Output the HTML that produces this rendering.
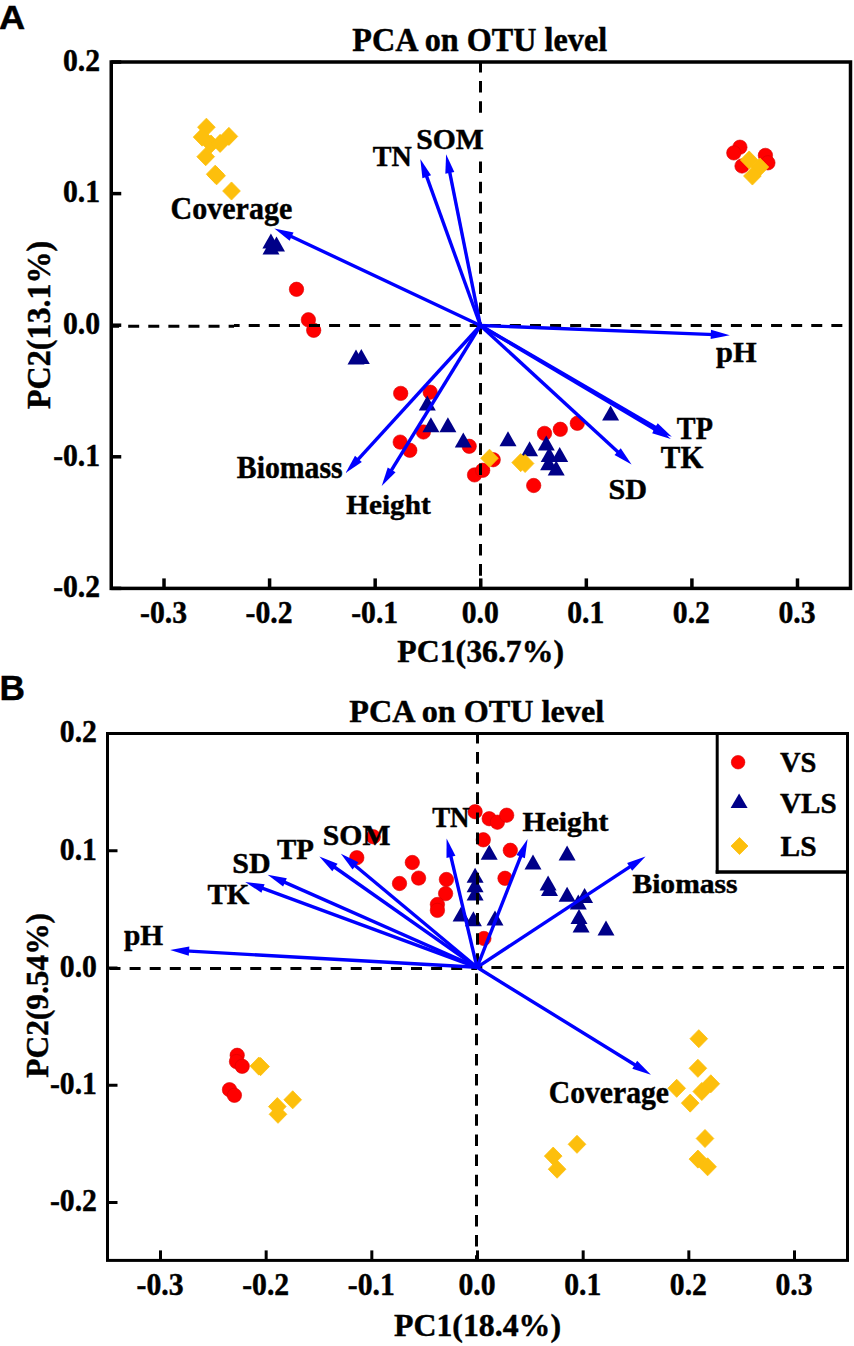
<!DOCTYPE html>
<html><head><meta charset="utf-8"><title>PCA on OTU level</title>
<style>html,body{margin:0;padding:0;background:#fff;width:854px;height:1346px;overflow:hidden;font-family:"Liberation Serif",serif}svg{display:block}text{stroke:#000;stroke-width:0.45px}</style>
</head><body>
<svg width="854" height="1346" viewBox="0 0 854 1346">
<rect width="854" height="1346" fill="#fff"/>
<circle cx="739.9" cy="147.2" r="7.2" fill="#ff0000" stroke="#d80000" stroke-width="0.6"/>
<circle cx="733.8" cy="152.9" r="7.2" fill="#ff0000" stroke="#d80000" stroke-width="0.6"/>
<circle cx="742" cy="166" r="7.2" fill="#ff0000" stroke="#d80000" stroke-width="0.6"/>
<circle cx="765.4" cy="155.4" r="7.2" fill="#ff0000" stroke="#d80000" stroke-width="0.6"/>
<circle cx="767.9" cy="162.8" r="7.2" fill="#ff0000" stroke="#d80000" stroke-width="0.6"/>
<circle cx="296.5" cy="289.3" r="7.2" fill="#ff0000" stroke="#d80000" stroke-width="0.6"/>
<circle cx="308.4" cy="319.8" r="7.2" fill="#ff0000" stroke="#d80000" stroke-width="0.6"/>
<circle cx="313.7" cy="330.3" r="7.2" fill="#ff0000" stroke="#d80000" stroke-width="0.6"/>
<circle cx="400.7" cy="393.4" r="7.2" fill="#ff0000" stroke="#d80000" stroke-width="0.6"/>
<circle cx="430.2" cy="392.2" r="7.2" fill="#ff0000" stroke="#d80000" stroke-width="0.6"/>
<circle cx="423.4" cy="432" r="7.2" fill="#ff0000" stroke="#d80000" stroke-width="0.6"/>
<circle cx="400.2" cy="442.1" r="7.2" fill="#ff0000" stroke="#d80000" stroke-width="0.6"/>
<circle cx="409.8" cy="450.3" r="7.2" fill="#ff0000" stroke="#d80000" stroke-width="0.6"/>
<circle cx="469.2" cy="446.3" r="7.2" fill="#ff0000" stroke="#d80000" stroke-width="0.6"/>
<circle cx="493.2" cy="459.7" r="7.2" fill="#ff0000" stroke="#d80000" stroke-width="0.6"/>
<circle cx="474.5" cy="474.9" r="7.2" fill="#ff0000" stroke="#d80000" stroke-width="0.6"/>
<circle cx="482.7" cy="470.3" r="7.2" fill="#ff0000" stroke="#d80000" stroke-width="0.6"/>
<circle cx="544.5" cy="433.4" r="7.2" fill="#ff0000" stroke="#d80000" stroke-width="0.6"/>
<circle cx="560.3" cy="429.3" r="7.2" fill="#ff0000" stroke="#d80000" stroke-width="0.6"/>
<circle cx="577.3" cy="423.3" r="7.2" fill="#ff0000" stroke="#d80000" stroke-width="0.6"/>
<circle cx="533.7" cy="485.5" r="7.2" fill="#ff0000" stroke="#d80000" stroke-width="0.6"/>
<path d="M270.9 233.4L279.4 248.4L262.4 248.4Z" fill="#000088"/>
<path d="M276.5 236.5L285 251.5L268 251.5Z" fill="#000088"/>
<path d="M271 239.5L279.5 254.5L262.5 254.5Z" fill="#000088"/>
<path d="M356 349.6L364.5 364.6L347.5 364.6Z" fill="#000088"/>
<path d="M361.3 349L369.8 364L352.8 364Z" fill="#000088"/>
<path d="M427.3 395.4L435.8 410.4L418.8 410.4Z" fill="#000088"/>
<path d="M430.9 417.2L439.4 432.2L422.4 432.2Z" fill="#000088"/>
<path d="M447.9 417.2L456.4 432.2L439.4 432.2Z" fill="#000088"/>
<path d="M463.3 432.4L471.8 447.4L454.8 447.4Z" fill="#000088"/>
<path d="M508 431.3L516.5 446.3L499.5 446.3Z" fill="#000088"/>
<path d="M529.6 441.2L538.1 456.2L521.1 456.2Z" fill="#000088"/>
<path d="M546.3 435.4L554.8 450.4L537.8 450.4Z" fill="#000088"/>
<path d="M559.7 447L568.2 462L551.2 462Z" fill="#000088"/>
<path d="M549.2 447L557.7 462L540.7 462Z" fill="#000088"/>
<path d="M548.6 455.3L557.1 470.3L540.1 470.3Z" fill="#000088"/>
<path d="M556.2 460.5L564.7 475.5L547.7 475.5Z" fill="#000088"/>
<path d="M610.6 405.4L619.1 420.4L602.1 420.4Z" fill="#000088"/>
<path d="M206.4 118.15L215.25 127.2L206.4 136.25L197.55 127.2Z" fill="#fdbf0c" stroke="#fdbf0c" stroke-width="0.8" stroke-linejoin="round"/>
<path d="M202.1 128.05L210.95 137.1L202.1 146.15L193.25 137.1Z" fill="#fdbf0c" stroke="#fdbf0c" stroke-width="0.8" stroke-linejoin="round"/>
<path d="M228.9 127.35L237.75 136.4L228.9 145.45L220.05 136.4Z" fill="#fdbf0c" stroke="#fdbf0c" stroke-width="0.8" stroke-linejoin="round"/>
<path d="M211 134.95L219.85 144L211 153.05L202.15 144Z" fill="#fdbf0c" stroke="#fdbf0c" stroke-width="0.8" stroke-linejoin="round"/>
<path d="M220.1 134.35L228.95 143.4L220.1 152.45L211.25 143.4Z" fill="#fdbf0c" stroke="#fdbf0c" stroke-width="0.8" stroke-linejoin="round"/>
<path d="M205.7 147.65L214.55 156.7L205.7 165.75L196.85 156.7Z" fill="#fdbf0c" stroke="#fdbf0c" stroke-width="0.8" stroke-linejoin="round"/>
<path d="M215.2 165.15L224.05 174.2L215.2 183.25L206.35 174.2Z" fill="#fdbf0c" stroke="#fdbf0c" stroke-width="0.8" stroke-linejoin="round"/>
<path d="M216.6 166.75L225.45 175.8L216.6 184.85L207.75 175.8Z" fill="#fdbf0c" stroke="#fdbf0c" stroke-width="0.8" stroke-linejoin="round"/>
<path d="M231.5 181.95L240.35 191L231.5 200.05L222.65 191Z" fill="#fdbf0c" stroke="#fdbf0c" stroke-width="0.8" stroke-linejoin="round"/>
<path d="M749.2 150.95L758.05 160L749.2 169.05L740.35 160Z" fill="#fdbf0c" stroke="#fdbf0c" stroke-width="0.8" stroke-linejoin="round"/>
<path d="M759.9 157.95L768.75 167L759.9 176.05L751.05 167Z" fill="#fdbf0c" stroke="#fdbf0c" stroke-width="0.8" stroke-linejoin="round"/>
<path d="M752.4 166.95L761.25 176L752.4 185.05L743.55 176Z" fill="#fdbf0c" stroke="#fdbf0c" stroke-width="0.8" stroke-linejoin="round"/>
<path d="M489.5 449.15L498.35 458.2L489.5 467.25L480.65 458.2Z" fill="#fdbf0c" stroke="#fdbf0c" stroke-width="0.8" stroke-linejoin="round"/>
<path d="M520.7 453.55L529.55 462.6L520.7 471.65L511.85 462.6Z" fill="#fdbf0c" stroke="#fdbf0c" stroke-width="0.8" stroke-linejoin="round"/>
<path d="M525.1 454.45L533.95 463.5L525.1 472.55L516.25 463.5Z" fill="#fdbf0c" stroke="#fdbf0c" stroke-width="0.8" stroke-linejoin="round"/>
<line x1="110" y1="326.3" x2="234" y2="326.3" stroke="#000" stroke-width="3" stroke-dasharray="11 9.09" stroke-dashoffset="1.9"/>
<line x1="234" y1="325.4" x2="849" y2="325.4" stroke="#000" stroke-width="3" stroke-dasharray="11 9.09" stroke-dashoffset="5.36"/>
<line x1="480.5" y1="62.2" x2="480.5" y2="587" stroke="#000" stroke-width="3" stroke-dasharray="11.6 8.53" stroke-dashoffset="1.33"/>
<line x1="164.01" y1="588.4" x2="164.01" y2="578.4" stroke="#000" stroke-width="3.5"/>
<line x1="269.59" y1="588.4" x2="269.59" y2="578.4" stroke="#000" stroke-width="3.5"/>
<line x1="375.17" y1="588.4" x2="375.17" y2="578.4" stroke="#000" stroke-width="3.5"/>
<line x1="480.75" y1="588.4" x2="480.75" y2="578.4" stroke="#000" stroke-width="3.5"/>
<line x1="586.33" y1="588.4" x2="586.33" y2="578.4" stroke="#000" stroke-width="3.5"/>
<line x1="691.91" y1="588.4" x2="691.91" y2="578.4" stroke="#000" stroke-width="3.5"/>
<line x1="797.49" y1="588.4" x2="797.49" y2="578.4" stroke="#000" stroke-width="3.5"/>
<line x1="111.25" y1="588.38" x2="121.25" y2="588.38" stroke="#000" stroke-width="3.5"/>
<line x1="111.25" y1="456.79" x2="121.25" y2="456.79" stroke="#000" stroke-width="3.5"/>
<line x1="111.25" y1="325.2" x2="121.25" y2="325.2" stroke="#000" stroke-width="3.5"/>
<line x1="111.25" y1="193.61" x2="121.25" y2="193.61" stroke="#000" stroke-width="3.5"/>
<line x1="111.25" y1="62.02" x2="121.25" y2="62.02" stroke="#000" stroke-width="3.5"/>
<rect x="111.25" y="62" width="739.25" height="526.4" fill="none" stroke="#000" stroke-width="3.5"/>
<text transform="translate(163.51 622.8) scale(0.97 1)" font-family='"Liberation Serif", serif' font-weight="bold" font-size="30.6" text-anchor="middle">-0.3</text>
<text transform="translate(269.09 622.8) scale(0.97 1)" font-family='"Liberation Serif", serif' font-weight="bold" font-size="30.6" text-anchor="middle">-0.2</text>
<text transform="translate(374.67 622.8) scale(0.97 1)" font-family='"Liberation Serif", serif' font-weight="bold" font-size="30.6" text-anchor="middle">-0.1</text>
<text transform="translate(480.25 622.8) scale(0.97 1)" font-family='"Liberation Serif", serif' font-weight="bold" font-size="30.6" text-anchor="middle">0.0</text>
<text transform="translate(585.83 622.8) scale(0.97 1)" font-family='"Liberation Serif", serif' font-weight="bold" font-size="30.6" text-anchor="middle">0.1</text>
<text transform="translate(691.41 622.8) scale(0.97 1)" font-family='"Liberation Serif", serif' font-weight="bold" font-size="30.6" text-anchor="middle">0.2</text>
<text transform="translate(796.99 622.8) scale(0.97 1)" font-family='"Liberation Serif", serif' font-weight="bold" font-size="30.6" text-anchor="middle">0.3</text>
<text transform="translate(100.1 597.18) scale(0.97 1)" font-family='"Liberation Serif", serif' font-weight="bold" font-size="30.6" text-anchor="end">-0.2</text>
<text transform="translate(100.1 465.59) scale(0.97 1)" font-family='"Liberation Serif", serif' font-weight="bold" font-size="30.6" text-anchor="end">-0.1</text>
<text transform="translate(100.1 334) scale(0.97 1)" font-family='"Liberation Serif", serif' font-weight="bold" font-size="30.6" text-anchor="end">0.0</text>
<text transform="translate(100.1 202.41) scale(0.97 1)" font-family='"Liberation Serif", serif' font-weight="bold" font-size="30.6" text-anchor="end">0.1</text>
<text transform="translate(100.1 70.82) scale(0.97 1)" font-family='"Liberation Serif", serif' font-weight="bold" font-size="30.6" text-anchor="end">0.2</text>
<line x1="480.4" y1="325.5" x2="288.15" y2="234.98" stroke="#0000ff" stroke-width="3.4"/>
<path d="M274.4 228.5L293.55 232.43L289.63 240.76Z" fill="#0000ff"/>
<line x1="480.4" y1="325.5" x2="425.46" y2="173.2" stroke="#0000ff" stroke-width="3.4"/>
<path d="M420.3 158.9L431.07 175.21L422.42 178.33Z" fill="#0000ff"/>
<line x1="480.4" y1="325.5" x2="449.09" y2="169.2" stroke="#0000ff" stroke-width="3.4"/>
<path d="M446.1 154.3L454.34 172.03L445.32 173.83Z" fill="#0000ff"/>
<line x1="480.4" y1="325.5" x2="714.61" y2="334.61" stroke="#0000ff" stroke-width="3.4"/>
<path d="M729.8 335.2L710.64 339.06L710.99 329.87Z" fill="#0000ff"/>
<line x1="480.4" y1="325.5" x2="658.66" y2="429.16" stroke="#0000ff" stroke-width="3.4"/>
<path d="M671.8 436.8L653.06 431.23L657.69 423.27Z" fill="#0000ff"/>
<line x1="480.4" y1="325.5" x2="657.74" y2="431.12" stroke="#0000ff" stroke-width="3.4"/>
<path d="M670.8 438.9L652.12 433.13L656.83 425.23Z" fill="#0000ff"/>
<line x1="480.4" y1="325.5" x2="620.41" y2="454.31" stroke="#0000ff" stroke-width="3.4"/>
<path d="M631.6 464.6L614.5 455.12L620.73 448.35Z" fill="#0000ff"/>
<line x1="480.4" y1="325.5" x2="355.85" y2="461.78" stroke="#0000ff" stroke-width="3.4"/>
<path d="M345.6 473L355.02 455.87L361.81 462.08Z" fill="#0000ff"/>
<line x1="480.4" y1="325.5" x2="389.66" y2="473.15" stroke="#0000ff" stroke-width="3.4"/>
<path d="M381.7 486.1L387.73 467.5L395.57 472.32Z" fill="#0000ff"/>
<rect x="476" y="117" width="9" height="39" fill="#fff"/>
<text transform="translate(170.6 218.5) scale(0.9612 1)" font-family='"Liberation Serif", serif' font-weight="bold" font-size="31.21" fill="#000">Coverage</text>
<text transform="translate(372.82 165.7) scale(0.9272 1)" font-family='"Liberation Serif", serif' font-weight="bold" font-size="30.31" fill="#000">TN</text>
<text transform="translate(416.22 149.3) scale(0.9795 1)" font-family='"Liberation Serif", serif' font-weight="bold" font-size="30.30" fill="#000">SOM</text>
<text transform="translate(716 361.5) scale(1.0232 1)" font-family='"Liberation Serif", serif' font-weight="bold" font-size="29.69" fill="#000">pH</text>
<text transform="translate(676.82 439.1) scale(0.9173 1)" font-family='"Liberation Serif", serif' font-weight="bold" font-size="30.77" fill="#000">TP</text>
<text transform="translate(660.81 468) scale(0.9593 1)" font-family='"Liberation Serif", serif' font-weight="bold" font-size="30.62" fill="#000">TK</text>
<text transform="translate(608.49 498.5) scale(0.9956 1)" font-family='"Liberation Serif", serif' font-weight="bold" font-size="30.30" fill="#000">SD</text>
<text transform="translate(236.8 478) scale(0.9440 1)" font-family='"Liberation Serif", serif' font-weight="bold" font-size="31.54" fill="#000">Biomass</text>
<text transform="translate(346.22 513.6) scale(1.0326 1)" font-family='"Liberation Serif", serif' font-weight="bold" font-size="28.31" fill="#000">Height</text>
<text transform="translate(352.36 51.2) scale(0.9779 1)" font-family='"Liberation Serif", serif' font-weight="bold" font-size="32.92" fill="#000">PCA on OTU level</text>
<text transform="translate(397.36 661.6) scale(1.0019 1)" font-family='"Liberation Serif", serif' font-weight="bold" font-size="31.69" fill="#000">PC1(36.7%)</text>
<text transform="translate(50.3 409.04) rotate(-90) scale(0.9648 1)" font-family='"Liberation Serif", serif' font-weight="bold" font-size="33.23">PC2(13.1%)</text>
<text transform="translate(-1.09 28.8) scale(1.0696 1)" font-family='"Liberation Sans", sans-serif' font-weight="bold" font-size="33.86" fill="#000">A</text>
<circle cx="373.3" cy="836.8" r="7.2" fill="#ff0000" stroke="#d80000" stroke-width="0.6"/>
<circle cx="356.8" cy="857.7" r="7.2" fill="#ff0000" stroke="#d80000" stroke-width="0.6"/>
<circle cx="412.3" cy="862.5" r="7.2" fill="#ff0000" stroke="#d80000" stroke-width="0.6"/>
<circle cx="418.6" cy="878.1" r="7.2" fill="#ff0000" stroke="#d80000" stroke-width="0.6"/>
<circle cx="399.5" cy="883.5" r="7.2" fill="#ff0000" stroke="#d80000" stroke-width="0.6"/>
<circle cx="446.4" cy="879.5" r="7.2" fill="#ff0000" stroke="#d80000" stroke-width="0.6"/>
<circle cx="445.6" cy="893.6" r="7.2" fill="#ff0000" stroke="#d80000" stroke-width="0.6"/>
<circle cx="437.4" cy="904.5" r="7.2" fill="#ff0000" stroke="#d80000" stroke-width="0.6"/>
<circle cx="437.4" cy="910.4" r="7.2" fill="#ff0000" stroke="#d80000" stroke-width="0.6"/>
<circle cx="475.1" cy="811.7" r="7.2" fill="#ff0000" stroke="#d80000" stroke-width="0.6"/>
<circle cx="489.2" cy="818.7" r="7.2" fill="#ff0000" stroke="#d80000" stroke-width="0.6"/>
<circle cx="497.4" cy="822.2" r="7.2" fill="#ff0000" stroke="#d80000" stroke-width="0.6"/>
<circle cx="506.7" cy="815.2" r="7.2" fill="#ff0000" stroke="#d80000" stroke-width="0.6"/>
<circle cx="483.3" cy="839.8" r="7.2" fill="#ff0000" stroke="#d80000" stroke-width="0.6"/>
<circle cx="510.3" cy="850.3" r="7.2" fill="#ff0000" stroke="#d80000" stroke-width="0.6"/>
<circle cx="505" cy="878.3" r="7.2" fill="#ff0000" stroke="#d80000" stroke-width="0.6"/>
<circle cx="483.9" cy="938.5" r="7.2" fill="#ff0000" stroke="#d80000" stroke-width="0.6"/>
<circle cx="237.2" cy="1055.3" r="7.2" fill="#ff0000" stroke="#d80000" stroke-width="0.6"/>
<circle cx="236.5" cy="1061.6" r="7.2" fill="#ff0000" stroke="#d80000" stroke-width="0.6"/>
<circle cx="242.2" cy="1066.3" r="7.2" fill="#ff0000" stroke="#d80000" stroke-width="0.6"/>
<circle cx="229.5" cy="1089.7" r="7.2" fill="#ff0000" stroke="#d80000" stroke-width="0.6"/>
<circle cx="234.4" cy="1095.3" r="7.2" fill="#ff0000" stroke="#d80000" stroke-width="0.6"/>
<path d="M489.2 844.7L497.7 859.7L480.7 859.7Z" fill="#000088"/>
<path d="M533 854.6L541.5 869.6L524.5 869.6Z" fill="#000088"/>
<path d="M567.1 845.6L575.6 860.6L558.6 860.6Z" fill="#000088"/>
<path d="M475.1 867.8L483.6 882.8L466.6 882.8Z" fill="#000088"/>
<path d="M475.1 877.2L483.6 892.2L466.6 892.2Z" fill="#000088"/>
<path d="M475.1 885.4L483.6 900.4L466.6 900.4Z" fill="#000088"/>
<path d="M461.1 906.5L469.6 921.5L452.6 921.5Z" fill="#000088"/>
<path d="M473.4 911.2L481.9 926.2L464.9 926.2Z" fill="#000088"/>
<path d="M495 910.6L503.5 925.6L486.5 925.6Z" fill="#000088"/>
<path d="M548.1 875.4L556.6 890.4L539.6 890.4Z" fill="#000088"/>
<path d="M549.5 881L558 896L541 896Z" fill="#000088"/>
<path d="M567.1 886.7L575.6 901.7L558.6 901.7Z" fill="#000088"/>
<path d="M584.6 888L593.1 903L576.1 903Z" fill="#000088"/>
<path d="M578.3 894.4L586.8 909.4L569.8 909.4Z" fill="#000088"/>
<path d="M579 909.1L587.5 924.1L570.5 924.1Z" fill="#000088"/>
<path d="M581.1 917.6L589.6 932.6L572.6 932.6Z" fill="#000088"/>
<path d="M606 920.4L614.5 935.4L597.5 935.4Z" fill="#000088"/>
<path d="M258.8 1057.05L267.65 1066.1L258.8 1075.15L249.95 1066.1Z" fill="#fdbf0c" stroke="#fdbf0c" stroke-width="0.8" stroke-linejoin="round"/>
<path d="M260.6 1057.55L269.45 1066.6L260.6 1075.65L251.75 1066.6Z" fill="#fdbf0c" stroke="#fdbf0c" stroke-width="0.8" stroke-linejoin="round"/>
<path d="M292.7 1090.75L301.55 1099.8L292.7 1108.85L283.85 1099.8Z" fill="#fdbf0c" stroke="#fdbf0c" stroke-width="0.8" stroke-linejoin="round"/>
<path d="M277.3 1097.55L286.15 1106.6L277.3 1115.65L268.45 1106.6Z" fill="#fdbf0c" stroke="#fdbf0c" stroke-width="0.8" stroke-linejoin="round"/>
<path d="M278 1105.25L286.85 1114.3L278 1123.35L269.15 1114.3Z" fill="#fdbf0c" stroke="#fdbf0c" stroke-width="0.8" stroke-linejoin="round"/>
<path d="M577 1135.25L585.85 1144.3L577 1153.35L568.15 1144.3Z" fill="#fdbf0c" stroke="#fdbf0c" stroke-width="0.8" stroke-linejoin="round"/>
<path d="M553.2 1147.05L562.05 1156.1L553.2 1165.15L544.35 1156.1Z" fill="#fdbf0c" stroke="#fdbf0c" stroke-width="0.8" stroke-linejoin="round"/>
<path d="M557.1 1160.15L565.95 1169.2L557.1 1178.25L548.25 1169.2Z" fill="#fdbf0c" stroke="#fdbf0c" stroke-width="0.8" stroke-linejoin="round"/>
<path d="M698.8 1029.65L707.65 1038.7L698.8 1047.75L689.95 1038.7Z" fill="#fdbf0c" stroke="#fdbf0c" stroke-width="0.8" stroke-linejoin="round"/>
<path d="M697.9 1059.25L706.75 1068.3L697.9 1077.35L689.05 1068.3Z" fill="#fdbf0c" stroke="#fdbf0c" stroke-width="0.8" stroke-linejoin="round"/>
<path d="M676.7 1079.25L685.55 1088.3L676.7 1097.35L667.85 1088.3Z" fill="#fdbf0c" stroke="#fdbf0c" stroke-width="0.8" stroke-linejoin="round"/>
<path d="M690.2 1094.05L699.05 1103.1L690.2 1112.15L681.35 1103.1Z" fill="#fdbf0c" stroke="#fdbf0c" stroke-width="0.8" stroke-linejoin="round"/>
<path d="M710.8 1074.75L719.65 1083.8L710.8 1092.85L701.95 1083.8Z" fill="#fdbf0c" stroke="#fdbf0c" stroke-width="0.8" stroke-linejoin="round"/>
<path d="M701.8 1082.45L710.65 1091.5L701.8 1100.55L692.95 1091.5Z" fill="#fdbf0c" stroke="#fdbf0c" stroke-width="0.8" stroke-linejoin="round"/>
<path d="M705 1129.45L713.85 1138.5L705 1147.55L696.15 1138.5Z" fill="#fdbf0c" stroke="#fdbf0c" stroke-width="0.8" stroke-linejoin="round"/>
<path d="M697.9 1150.05L706.75 1159.1L697.9 1168.15L689.05 1159.1Z" fill="#fdbf0c" stroke="#fdbf0c" stroke-width="0.8" stroke-linejoin="round"/>
<path d="M707.6 1157.75L716.45 1166.8L707.6 1175.85L698.75 1166.8Z" fill="#fdbf0c" stroke="#fdbf0c" stroke-width="0.8" stroke-linejoin="round"/>
<line x1="109.5" y1="968.45" x2="477" y2="968.45" stroke="#000" stroke-width="3" stroke-dasharray="11 9.1"/>
<line x1="477" y1="967.45" x2="846" y2="967.45" stroke="#000" stroke-width="3" stroke-dasharray="11 9.1" stroke-dashoffset="5.70"/>
<line x1="477.5" y1="734" x2="477.5" y2="968" stroke="#000" stroke-width="3" stroke-dasharray="11.6 8.525" stroke-dashoffset="2.10"/>
<line x1="476.5" y1="968" x2="476.5" y2="1259" stroke="#000" stroke-width="3" stroke-dasharray="11.6 8.525" stroke-dashoffset="14.73"/>
<line x1="160.49" y1="1260.4" x2="160.49" y2="1250.4" stroke="#000" stroke-width="3.0"/>
<line x1="266.16" y1="1260.4" x2="266.16" y2="1250.4" stroke="#000" stroke-width="3.0"/>
<line x1="371.83" y1="1260.4" x2="371.83" y2="1250.4" stroke="#000" stroke-width="3.0"/>
<line x1="477.5" y1="1260.4" x2="477.5" y2="1250.4" stroke="#000" stroke-width="3.0"/>
<line x1="583.17" y1="1260.4" x2="583.17" y2="1250.4" stroke="#000" stroke-width="3.0"/>
<line x1="688.84" y1="1260.4" x2="688.84" y2="1250.4" stroke="#000" stroke-width="3.0"/>
<line x1="794.51" y1="1260.4" x2="794.51" y2="1250.4" stroke="#000" stroke-width="3.0"/>
<line x1="107.5" y1="1202.5" x2="117.5" y2="1202.5" stroke="#000" stroke-width="3.0"/>
<line x1="107.5" y1="1085.25" x2="117.5" y2="1085.25" stroke="#000" stroke-width="3.0"/>
<line x1="107.5" y1="968" x2="117.5" y2="968" stroke="#000" stroke-width="3.0"/>
<line x1="107.5" y1="850.75" x2="117.5" y2="850.75" stroke="#000" stroke-width="3.0"/>
<line x1="107.5" y1="733.5" x2="117.5" y2="733.5" stroke="#000" stroke-width="3.0"/>
<rect x="107.5" y="733.5" width="740" height="526.9" fill="none" stroke="#000" stroke-width="3.0"/>
<text transform="translate(159.99 1294.7) scale(0.97 1)" font-family='"Liberation Serif", serif' font-weight="bold" font-size="30.6" text-anchor="middle">-0.3</text>
<text transform="translate(265.66 1294.7) scale(0.97 1)" font-family='"Liberation Serif", serif' font-weight="bold" font-size="30.6" text-anchor="middle">-0.2</text>
<text transform="translate(371.33 1294.7) scale(0.97 1)" font-family='"Liberation Serif", serif' font-weight="bold" font-size="30.6" text-anchor="middle">-0.1</text>
<text transform="translate(477 1294.7) scale(0.97 1)" font-family='"Liberation Serif", serif' font-weight="bold" font-size="30.6" text-anchor="middle">0.0</text>
<text transform="translate(582.67 1294.7) scale(0.97 1)" font-family='"Liberation Serif", serif' font-weight="bold" font-size="30.6" text-anchor="middle">0.1</text>
<text transform="translate(688.34 1294.7) scale(0.97 1)" font-family='"Liberation Serif", serif' font-weight="bold" font-size="30.6" text-anchor="middle">0.2</text>
<text transform="translate(794.01 1294.7) scale(0.97 1)" font-family='"Liberation Serif", serif' font-weight="bold" font-size="30.6" text-anchor="middle">0.3</text>
<text transform="translate(96.9 1211.3) scale(0.97 1)" font-family='"Liberation Serif", serif' font-weight="bold" font-size="30.6" text-anchor="end">-0.2</text>
<text transform="translate(96.9 1094.05) scale(0.97 1)" font-family='"Liberation Serif", serif' font-weight="bold" font-size="30.6" text-anchor="end">-0.1</text>
<text transform="translate(96.9 976.8) scale(0.97 1)" font-family='"Liberation Serif", serif' font-weight="bold" font-size="30.6" text-anchor="end">0.0</text>
<text transform="translate(96.9 859.55) scale(0.97 1)" font-family='"Liberation Serif", serif' font-weight="bold" font-size="30.6" text-anchor="end">0.1</text>
<text transform="translate(96.9 742.3) scale(0.97 1)" font-family='"Liberation Serif", serif' font-weight="bold" font-size="30.6" text-anchor="end">0.2</text>
<line x1="477" y1="967.3" x2="185.28" y2="950.86" stroke="#0000ff" stroke-width="3.4"/>
<path d="M170.1 950L189.33 946.48L188.81 955.66Z" fill="#0000ff"/>
<line x1="477" y1="967.3" x2="259.46" y2="887.15" stroke="#0000ff" stroke-width="3.4"/>
<path d="M245.2 881.9L264.62 884.15L261.44 892.78Z" fill="#0000ff"/>
<line x1="477" y1="967.3" x2="281.5" y2="880.85" stroke="#0000ff" stroke-width="3.4"/>
<path d="M267.6 874.7L286.84 878.18L283.12 886.59Z" fill="#0000ff"/>
<line x1="477" y1="967.3" x2="331.83" y2="865.24" stroke="#0000ff" stroke-width="3.4"/>
<path d="M319.4 856.5L337.59 863.66L332.3 871.19Z" fill="#0000ff"/>
<line x1="477" y1="967.3" x2="352.57" y2="863.44" stroke="#0000ff" stroke-width="3.4"/>
<path d="M340.9 853.7L358.43 862.34L352.54 869.41Z" fill="#0000ff"/>
<line x1="477" y1="967.3" x2="450.09" y2="853.19" stroke="#0000ff" stroke-width="3.4"/>
<path d="M446.6 838.4L455.44 855.84L446.48 857.95Z" fill="#0000ff"/>
<line x1="477" y1="967.3" x2="522.02" y2="853.14" stroke="#0000ff" stroke-width="3.4"/>
<path d="M527.6 839L524.91 858.36L516.35 854.99Z" fill="#0000ff"/>
<line x1="477" y1="967.3" x2="632.8" y2="864.85" stroke="#0000ff" stroke-width="3.4"/>
<path d="M645.5 856.5L632.15 870.78L627.1 863.1Z" fill="#0000ff"/>
<line x1="477" y1="967.3" x2="637.97" y2="1066.71" stroke="#0000ff" stroke-width="3.4"/>
<path d="M650.9 1074.7L632.32 1068.63L637.15 1060.8Z" fill="#0000ff"/>
<text transform="translate(123.91 944.8) scale(0.9697 1)" font-family='"Liberation Serif", serif' font-weight="bold" font-size="30.31" fill="#000">pH</text>
<text transform="translate(207.41 903.8) scale(0.9575 1)" font-family='"Liberation Serif", serif' font-weight="bold" font-size="30.31" fill="#000">TK</text>
<text transform="translate(232.2 873.3) scale(0.9851 1)" font-family='"Liberation Serif", serif' font-weight="bold" font-size="30.45" fill="#000">SD</text>
<text transform="translate(277.01 858.8) scale(0.9526 1)" font-family='"Liberation Serif", serif' font-weight="bold" font-size="30.31" fill="#000">TP</text>
<text transform="translate(322.82 844.7) scale(1.0365 1)" font-family='"Liberation Serif", serif' font-weight="bold" font-size="28.64" fill="#000">SOM</text>
<text transform="translate(432.13 826.8) scale(0.9238 1)" font-family='"Liberation Serif", serif' font-weight="bold" font-size="29.08" fill="#000">TN</text>
<text transform="translate(522.61 830.7) scale(1.0487 1)" font-family='"Liberation Serif", serif' font-weight="bold" font-size="28.31" fill="#000">Height</text>
<text transform="translate(632.41 892.8) scale(1.0572 1)" font-family='"Liberation Serif", serif' font-weight="bold" font-size="28.00" fill="#000">Biomass</text>
<text transform="translate(548.72 1102.6) scale(0.9416 1)" font-family='"Liberation Serif", serif' font-weight="bold" font-size="31.52" fill="#000">Coverage</text>
<line x1="717.2" y1="733.5" x2="717.2" y2="873.6" stroke="#000" stroke-width="3"/>
<line x1="715.7" y1="871.9" x2="847.5" y2="871.9" stroke="#000" stroke-width="3.5"/>
<circle cx="738.1" cy="762.2" r="6.8" fill="#ff0000" stroke="#d80000" stroke-width="0.6"/>
<path d="M739.1 793.4L747.6 807.9L730.6 807.9Z" fill="#000088"/>
<path d="M739.5 837.45L748 846L739.5 854.55L731 846Z" fill="#fdbf0c" stroke="#fdbf0c" stroke-width="0.8" stroke-linejoin="round"/>
<text transform="translate(780.01 772.3) scale(0.9368 1)" font-family='"Liberation Serif", serif' font-weight="bold" font-size="30.46" fill="#000">VS</text>
<text transform="translate(780.01 812.9) scale(0.9801 1)" font-family='"Liberation Serif", serif' font-weight="bold" font-size="29.69" fill="#000">VLS</text>
<text transform="translate(780.61 855.6) scale(0.9929 1)" font-family='"Liberation Serif", serif' font-weight="bold" font-size="29.69" fill="#000">LS</text>
<text transform="translate(349.36 721.9) scale(0.9918 1)" font-family='"Liberation Serif", serif' font-weight="bold" font-size="32.46" fill="#000">PCA on OTU level</text>
<text transform="translate(393.96 1335.9) scale(0.9812 1)" font-family='"Liberation Serif", serif' font-weight="bold" font-size="32.46" fill="#000">PC1(18.4%)</text>
<text transform="translate(47.6 1077.63) rotate(-90) scale(0.9669 1)" font-family='"Liberation Serif", serif' font-weight="bold" font-size="32.46">PC2(9.54%)</text>
<text transform="translate(-0.57 699.9) scale(1.0133 1)" font-family='"Liberation Sans", sans-serif' font-weight="bold" font-size="34.78" fill="#000">B</text>
</svg>
</body></html>
